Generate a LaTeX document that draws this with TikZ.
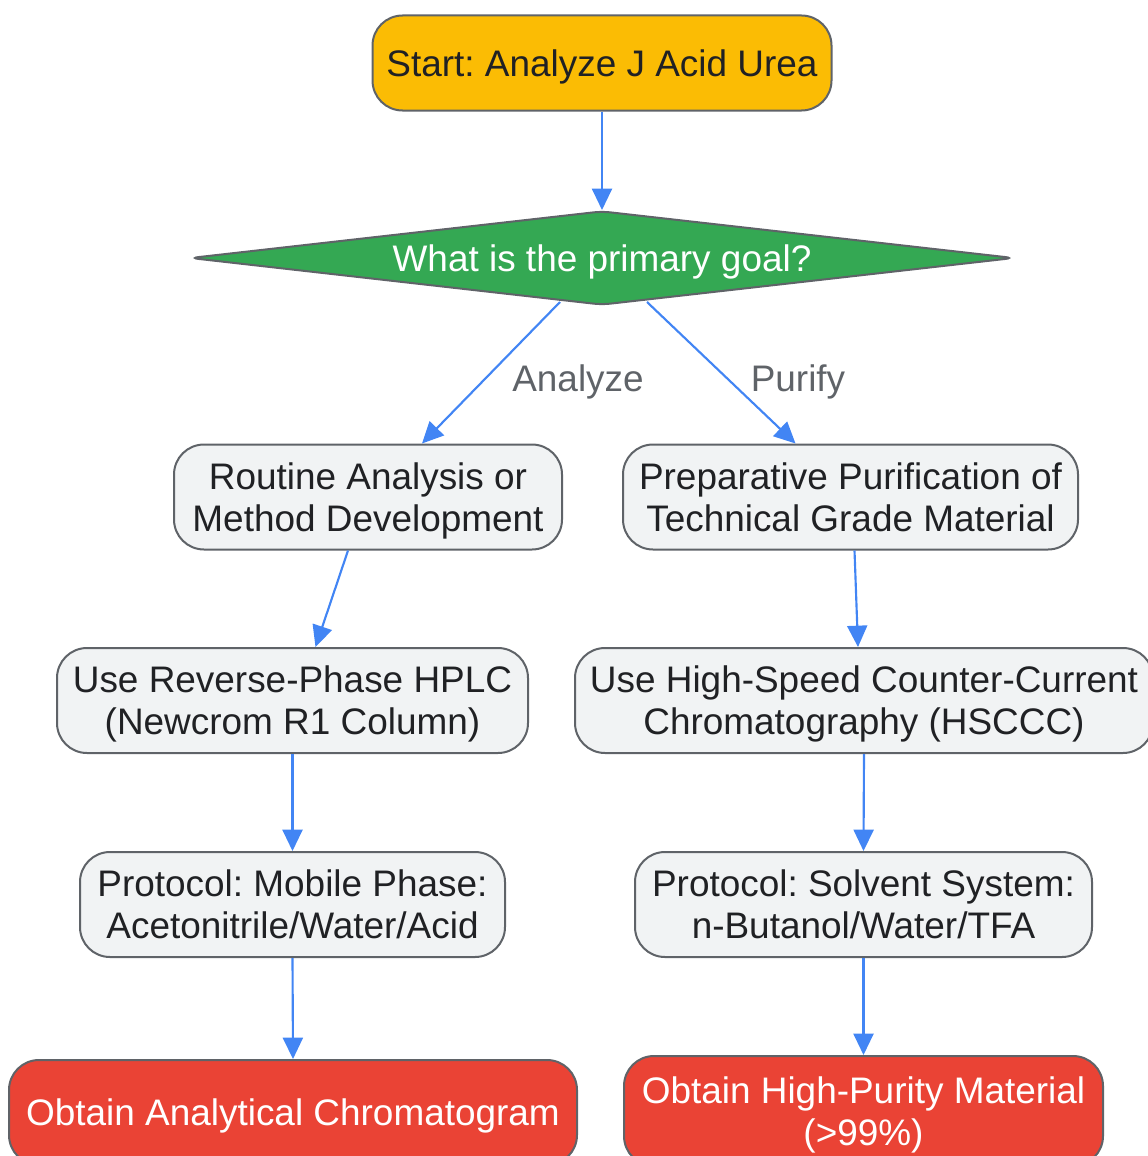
\documentclass[tikz,border=0pt]{standalone}
\usepackage{fontspec}
\setmainfont{Liberation Sans}
\usetikzlibrary{shapes.geometric,arrows.meta,calc}
\frenchspacing
\definecolor{boxfill}{HTML}{F1F3F4}
\definecolor{boxdraw}{HTML}{5F6368}
\definecolor{txt}{HTML}{202124}
\definecolor{ylw}{HTML}{FBBC04}
\definecolor{grn}{HTML}{34A853}
\definecolor{redf}{HTML}{EA4335}
\definecolor{blu}{HTML}{4285F4}
\definecolor{lbl}{HTML}{5F6368}
\tikzset{
  basebox/.style={rectangle, rounded corners=22.5pt, draw=boxdraw, line width=1.5pt,
    inner sep=0pt, align=center, text=txt, text depth=-3pt,
    font=\frenchspacing\fontsize{27.7}{31.5}\selectfont},
  graybox/.style={basebox, fill=boxfill},
  startbox/.style={basebox, fill=ylw},
  endbox/.style={basebox, fill=redf, text=white},
  decision/.style={diamond, shape aspect=8.9, draw=boxdraw, line width=1.5pt, fill=grn,
    rounded corners=6pt, inner sep=0pt, text=white, text depth=-3pt,
    font=\fontsize{27.7}{31.5}\selectfont},
  conn/.style={draw=blu, line width=1.6pt, -{Triangle[length=16pt,width=15pt]}},
  elabel/.style={text=lbl, text depth=-3pt, font=\fontsize{27.7}{31.5}\selectfont},
}
\begin{document}
\begin{tikzpicture}[x=0.75pt,y=-0.75pt]
\useasboundingbox (0,0) rectangle (1148,1156);
\node[startbox, minimum width=344.25pt, minimum height=71.25pt] (s) at (602,63) {Start: Analyze J Acid Urea};
\node[decision, minimum width=618pt, minimum height=70.5pt] (d) at (602,258) {What is the primary goal?};
\node[graybox, minimum width=291pt, minimum height=78.75pt] (r) at (368,497) {Routine Analysis or\\Method Development};
\node[graybox, minimum width=341.25pt, minimum height=78.75pt] (p) at (850.5,497) {Preparative Purification of\\Technical Grade Material};
\node[graybox, minimum width=353.25pt, minimum height=78.75pt] (h) at (292.5,700.5) {Use Reverse-Phase HPLC\\(Newcrom R1 Column)};
\node[graybox, minimum width=433.5pt, minimum height=78.75pt] (hs) at (864,700.5) {Use High-Speed Counter-Current\\Chromatography (HSCCC)};
\node[graybox, minimum width=318.75pt, minimum height=78.75pt] (pl) at (292.5,904.5) {Protocol: Mobile Phase:\\Acetonitrile/Water/Acid};
\node[graybox, minimum width=342.75pt, minimum height=78.75pt] (pr) at (863.5,904.5) {Protocol: Solvent System:\\n-Butanol/Water/TFA};
\node[endbox, minimum width=426pt, minimum height=78.75pt] (ol) at (293,1112.5) {Obtain Analytical Chromatogram};
\node[endbox, minimum width=359.25pt, minimum height=82.5pt] (or) at (863.5,1111) {Obtain High-Purity Material\\(>99\%)};
\node[elabel] (la) at (578,378) {Analyze};
\node[elabel] (lp) at (798,378) {Purify};
\draw[conn] (s.south) -- (d.north);
\draw[conn] ($(d.south)+(-42,-4)$) -- ($(r.north)+(54,0)$);
\draw[conn] ($(d.south)+(45,-4)$) -- ($(p.north)+(-55,0)$);
\draw[conn] ($(r.south)+(-20,0)$) -- ($(h.north)+(23,0)$);
\draw[conn] ($(p.south)+(4,0)$) -- ($(hs.north)+(-6,0)$);
\draw[conn] (h.south) -- (pl.north);
\draw[conn] (hs.south) -- (pr.north);
\draw[conn] (pl.south) -- (ol.north);
\draw[conn] (pr.south) -- (or.north);
\end{tikzpicture}
\end{document}
